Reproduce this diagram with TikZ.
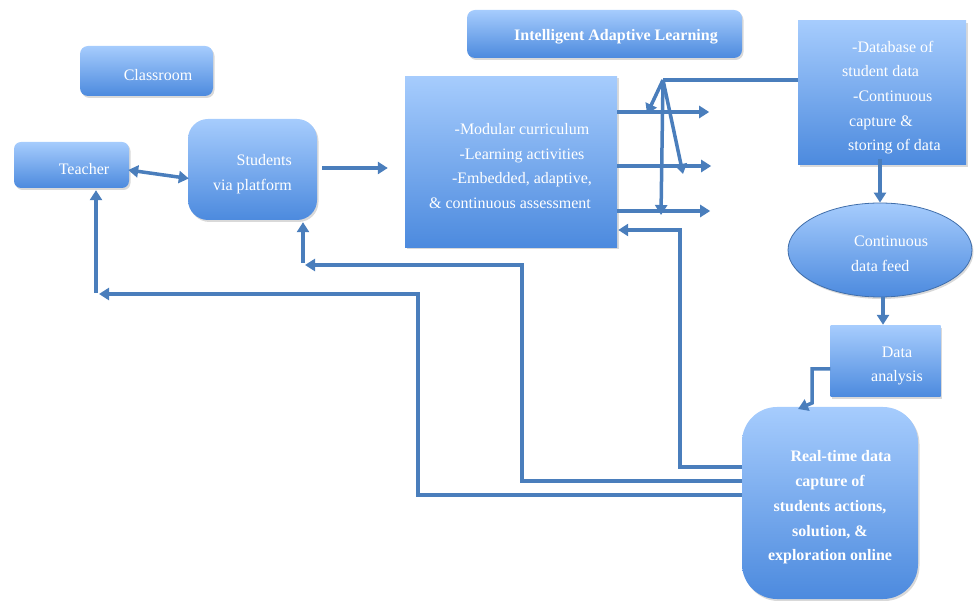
\documentclass[tikz,border=0pt]{standalone}
\usepackage{fontspec}
\setmainfont{Liberation Serif}
\usetikzlibrary{arrows.meta,shapes.geometric,shadows,calc}
\definecolor{boxtop}{RGB}{166,204,253}
\definecolor{boxbot}{RGB}{76,138,222}
\definecolor{arrowblue}{RGB}{74,126,188}
\definecolor{ellline}{RGB}{64,110,170}
\begin{document}
\begin{tikzpicture}[x=1pt,y=-1pt,
  box/.style={top color=boxtop,bottom color=boxbot,draw=none,inner sep=0pt,
    drop shadow={opacity=0.3,shadow xshift=1.5pt,shadow yshift=-2pt}},
  lbl/.style={text=white,font=\fontsize{16}{24.7}\selectfont,inner sep=0pt,align=center},
  blbl/.style={lbl,font=\bfseries\fontsize{16}{24.7}\selectfont},
  arr/.style={draw=arrowblue,line width=3.5pt,-{Triangle[length=10pt,width=12pt]}},
  dblarr/.style={draw=arrowblue,line width=3.5pt,{Triangle[length=10pt,width=12pt]}-{Triangle[length=10pt,width=12pt]}},
  ln/.style={draw=arrowblue,line width=3.5pt}]
\useasboundingbox (0,0) rectangle (975,601);

% boxes
\node[box,rounded corners=8pt,minimum width=275pt,minimum height=48pt] (title) at (604.5,34) {};
\node[blbl] (titlet) at (616,37) {Intelligent Adaptive Learning};

\node[box,rounded corners=8pt,minimum width=133pt,minimum height=50pt] (classroom) at (146.5,71) {};
\node[lbl] (classroomt) at (158,75) {Classroom};

\node[box,rounded corners=7pt,minimum width=115pt,minimum height=46pt] (teacher) at (71.5,165) {};
\node[lbl] (teachert) at (84,169) {Teacher};

\node[box,rounded corners=20pt,minimum width=129pt,minimum height=101pt] (students) at (252.5,169.5) {};
\node[lbl,align=right,anchor=east] (studentst) at (292,174) {Students\\via platform};

\node[box,minimum width=212pt,minimum height=171pt] (mid) at (511,162) {};
\node[lbl] (midt) at (516,166) {\hspace*{12pt}-Modular curriculum\\\hspace*{12pt}-Learning activities\\\hspace*{12pt}-Embedded, adaptive,\\\& continuous assessment\hspace*{12pt}};

\node[box,minimum width=168pt,minimum height=144pt] (db) at (882,93) {};
\node[lbl,align=left,anchor=west] (dbt) at (842,97.5) {\hspace*{10pt}-Database of\\student data\\\hspace*{11pt}-Continuous\\\hspace*{7pt}capture \&\\\hspace*{6pt}storing of data};

\node[box,ellipse,draw=ellline,line width=0.8pt,minimum width=184pt,minimum height=94pt] (feed) at (880,250) {};
\node[lbl,align=left,anchor=west] (feedt) at (851,253.5) {\hspace*{3pt}Continuous\\data feed};

\node[box,minimum width=110pt,minimum height=71pt] (da) at (885.5,361.5) {};
\node[lbl] (dat) at (897,366) {Data\\analysis};

\node[box,rounded corners=35pt,minimum width=176pt,minimum height=192pt] (rt) at (830,503) {};
\node[blbl] (rtt) at (830,507.5) {\hspace*{22pt}Real-time data\\capture of\\students actions,\\solution, \&\\exploration online};

% connectors
\draw[dblarr] ($(teacher.east)+(-1,5)$) -- ($(students.west)+(1,9)$);
\draw[arr] ($(students.east)+(5,-1.5)$) -- ($(mid.west)+(-17,6)$);

\draw[arr] ($(mid.east)+(0,-50)$) -- ($(mid.east)+(92,-50)$);
\draw[arr] ($(mid.east)+(0,4)$) -- ($(mid.east)+(94,4)$);
\draw[arr] ($(mid.east)+(0,49)$) -- ($(mid.east)+(93,49)$);

\coordinate (fan) at (663,80);
\draw[ln] ($(db.west)+(0,-13)$) -- (fan);
\draw[arr] (fan) -- (647,114);
\draw[arr] (fan) -- (683,174);
\draw[arr] (fan) -- (661,215);

\draw[arr] ($(rt.west)+(0,-36)$) -- (680,467) -- (680,230) -- ($(mid.east)+(1,68)$);

\draw[arr] ($(rt.west)+(0,-22)$) -- (522,481) -- (522,265) -- (305,265);
\draw[arr] (303,263) -- ($(students.south)+(50.5,2)$);

\draw[arr] ($(rt.west)+(0,-8)$) -- (418,495) -- (418,294) -- (99,294);
\draw[arr] (96,293) -- ($(teacher.south)+(24.5,2)$);

\draw[arr] ($(db.south -| feed.north)+(0,-6)$) -- (feed.north);
\draw[arr] ($(feed.south)+(3,0)$) -- ($(da.north)+(-2.5,-1)$);
\draw[arr] ($(da.west)+(0,7.5)$) -- (812,369) -- (812,403) -- (798,409);
\end{tikzpicture}
\end{document}
